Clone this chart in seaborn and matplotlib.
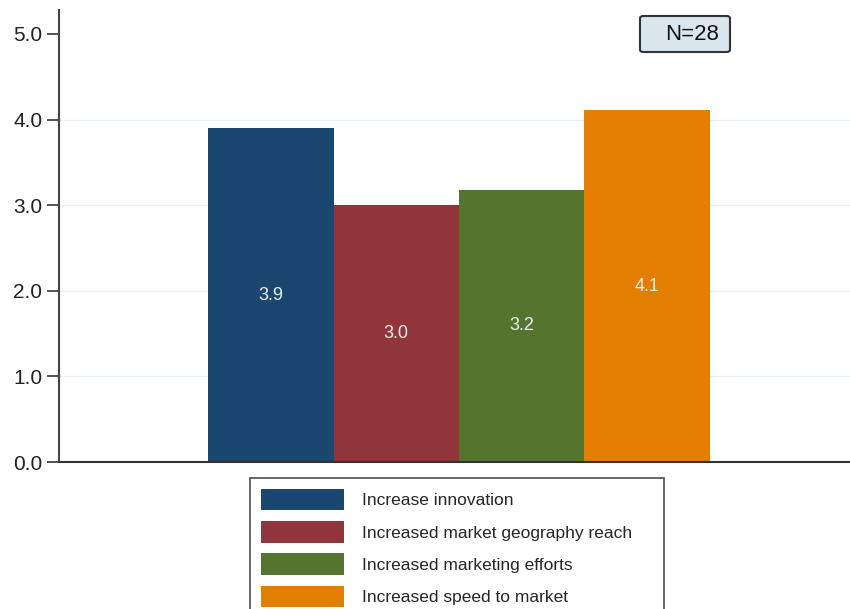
import matplotlib
matplotlib.use("Agg")
import matplotlib.pyplot as plt
import matplotlib.patches as mpatches
import seaborn as sns

categories = ["Increase innovation", "Increased market geography reach",
              "Increased marketing efforts", "Increased speed to market"]
values = [3.9, 3.0, 3.18, 4.11]
colors = ["#1a476f", "#90353b", "#55752f", "#e37e00"]
y_ticks = [0, 1, 2, 3, 4, 5]
n_label = "N=28"

sns.set_theme(style="white")
plt.rcParams["font.family"] = ["Liberation Sans", "DejaVu Sans"]

fig = plt.figure(figsize=(8.5, 6.09), dpi=100)
ax = fig.add_axes([59 / 850, 1 - 462 / 609, 1 - 59 / 850, 452 / 609])

# light grid lines (none at the top tick)
for g in y_ticks[1:-1]:
    ax.axhline(g, color="#e8f0f0", lw=1, zorder=0)

sns.barplot(x=categories, y=values, hue=categories, palette=colors,
            width=1.0, legend=False, saturation=1, linewidth=0, ax=ax, zorder=2)

# value labels in the middle of each bar
for i, v in enumerate(values):
    ax.text(i, v / 2, f"{v:.1f}", ha="center", va="center",
            color="#ececec", fontsize=13, zorder=3)

ax.set_xlim(-1.69, 4.62)
ax.set_ylim(0, 5.28)
ax.set_yticks(y_ticks)
ax.set_yticklabels([f"{t:.1f}" for t in y_ticks], fontsize=15, color="#222222")
ax.set_xticks([])
ax.set_xlabel("")
ax.set_ylabel("")
ax.tick_params(axis="y", left=True, length=9, width=1.3, color="#444444", pad=3)

for s in ["top", "right"]:
    ax.spines[s].set_visible(False)
ax.spines["left"].set_color("#444444")
ax.spines["left"].set_linewidth(1.5)
ax.spines["bottom"].set_color("#333333")
ax.spines["bottom"].set_linewidth(1.5)

# N box
box = mpatches.FancyBboxPatch((640 / 850, 1 - 52 / 609), 90 / 850, 36 / 609,
                              boxstyle="round,pad=0,rounding_size=0.004",
                              transform=fig.transFigure, fc="#dae6ee",
                              ec="#333333", lw=1.5)
fig.add_artist(box)
fig.text(692 / 850, 1 - 34 / 609, n_label, ha="center", va="center",
         fontsize=16, color="#111111")

handles = [mpatches.Patch(facecolor=c, edgecolor="none", label=l)
           for c, l in zip(colors, categories)]
leg = fig.legend(handles=handles, loc="upper left",
                 bbox_to_anchor=(250 / 850, 0, 414 / 850, 1 - 478 / 609),
                 mode="expand", fontsize=12.5, handlelength=4.77, handleheight=1.52,
                 handletextpad=1.08, labelspacing=0.63, borderpad=0.62,
                 borderaxespad=0, fancybox=False, frameon=True)
leg.get_frame().set_edgecolor("#333333")
leg.get_frame().set_linewidth(1.3)

fig.savefig("out.png", dpi=100)
